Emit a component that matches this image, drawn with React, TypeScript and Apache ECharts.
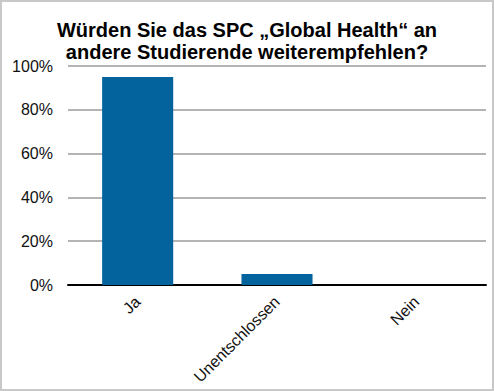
import React, { useEffect, useRef } from "react";
import * as echarts from "echarts";

const categories = ["Ja", "Unentschlossen", "Nein"];
const values = [95, 5, 0];
const yTicks = [0, 20, 40, 60, 80, 100];
const titleLines = ["Würden Sie das SPC „Global Health“ an", "andere Studierende weiterempfehlen?"];

export default function App() {
  const ref = useRef<HTMLDivElement>(null);
  useEffect(() => {
    document.body.style.margin = "0";
    const chart = echarts.init(ref.current!, null, { renderer: "svg" });
    chart.setOption({
      animation: false,
      backgroundColor: "#ffffff",
      title: {
        text: titleLines.join("\n"),
        left: "center",
        top: 14,
        textStyle: {
          fontFamily: "Liberation Sans, Arial, sans-serif",
          fontWeight: "bold",
          fontSize: 20,
          lineHeight: 22,
          color: "#000000",
        },
      },
      grid: { left: 68, right: 8, top: 66, bottom: 106 },
      xAxis: {
        type: "category",
        data: categories,
        axisLine: { show: true, lineStyle: { color: "#000000", width: 2 } },
        axisTick: { show: false },
        axisLabel: {
          rotate: 45,
          margin: 14,
          interval: 0,
          fontFamily: "Liberation Sans, Arial, sans-serif",
          fontSize: 16,
          color: "#111111",
        },
      },
      yAxis: {
        type: "value",
        min: yTicks[0],
        max: yTicks[yTicks.length - 1],
        interval: 20,
        axisLine: { show: false },
        axisTick: { show: false },
        splitLine: { lineStyle: { color: "#b4b4b4", width: 2 } },
        axisLabel: {
          formatter: "{value}%",
          margin: 15,
          fontFamily: "Liberation Sans, Arial, sans-serif",
          fontSize: 16,
          color: "#111111",
        },
      },
      series: [
        {
          type: "bar",
          data: values,
          barWidth: "51%",
          itemStyle: { color: "#03639c" },
        },
      ],
    });
    return () => chart.dispose();
  }, []);
  return (
    <div style={{ position: "absolute", left: 0, top: 0, width: 494, height: 391 }}>
      <div ref={ref} style={{ position: "absolute", left: 0, top: 0, width: 494, height: 391 }} />
      <div
        style={{
          position: "absolute",
          left: 0,
          top: 0,
          width: 494,
          height: 391,
          boxSizing: "border-box",
          border: "2px solid #c8c8c8",
          pointerEvents: "none",
        }}
      />
    </div>
  );
}
